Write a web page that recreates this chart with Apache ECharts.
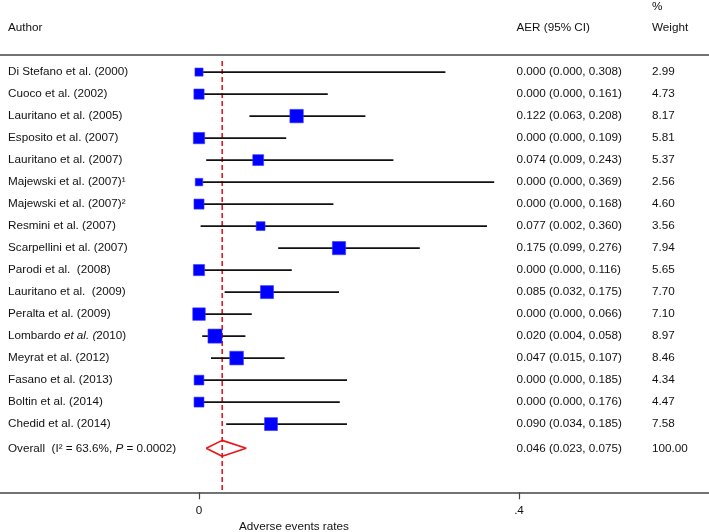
<!DOCTYPE html>
<html>
<head>
<meta charset="utf-8">
<script src="https://cdn.jsdelivr.net/npm/echarts@6/dist/echarts.min.js"></script>
<style>
  html, body { margin: 0; padding: 0; background: #fff; }
  #chart { width: 709px; height: 532px; }
</style>
</head>
<body>
<div id="chart"></div>
<script>
// studies (top to bottom)
const authors = [
  "Di Stefano et al. (2000)",
  "Cuoco et al. (2002)",
  "Lauritano et al. (2005)",
  "Esposito et al. (2007)",
  "Lauritano et al. (2007)",
  "Majewski et al. (2007)\u00b9",
  "Majewski et al. (2007)\u00b2",
  "Resmini et al. (2007)",
  "Scarpellini et al. (2007)",
  "Parodi et al.  (2008)",
  "Lauritano et al.  (2009)",
  "Peralta et al. (2009)",
  "Lombardo {i|et al. (}2010)",
  "Meyrat et al. (2012)",
  "Fasano et al. (2013)",
  "Boltin et al. (2014)",
  "Chedid et al. (2014)"
];
const aer = [0.000, 0.000, 0.122, 0.000, 0.074, 0.000, 0.000, 0.077, 0.175, 0.000, 0.085, 0.000, 0.020, 0.047, 0.000, 0.000, 0.090];
const lower = [0.000, 0.000, 0.063, 0.000, 0.009, 0.000, 0.000, 0.002, 0.099, 0.000, 0.032, 0.000, 0.004, 0.015, 0.000, 0.000, 0.034];
const upper = [0.308, 0.161, 0.208, 0.109, 0.243, 0.369, 0.168, 0.360, 0.276, 0.116, 0.175, 0.066, 0.058, 0.107, 0.185, 0.176, 0.185];
const weights = [2.99, 4.73, 8.17, 5.81, 5.37, 2.56, 4.60, 3.56, 7.94, 5.65, 7.70, 7.10, 8.97, 8.46, 4.34, 4.47, 7.58];

// overall row
const overallLabel = "Overall  (I\u00b2 = 63.6%, {i|P} = 0.0002)";
const overallText = "0.046 (0.023, 0.075)";
const overallWeight = "100.00";
// pooled diamond as drawn (left, centre, right)
const diamond = [0.009, 0.029, 0.059];
const overallRow = 17.1;

const xTicks = [0, 0.4];

const FONT = "'Liberation Sans', Arial, Helvetica, sans-serif";
const FS = 11.7;
const TXT = "#111";

const chart = echarts.init(document.getElementById("chart"));

const fmt = (v) => v.toFixed(3);
const rows = authors.map((a, i) => [aer[i], i, lower[i], upper[i], weights[i]]);

// text columns, y from the axis
const textRows = authors.map((a, i) => ({
  name: a,
  value: [0, i],
  ci: fmt(aer[i]) + " (" + fmt(lower[i]) + ", " + fmt(upper[i]) + ")",
  w: weights[i].toFixed(2)
}));
textRows.push({ name: overallLabel, value: [0, overallRow], ci: overallText, w: overallWeight });

const rich = {
  i: { fontStyle: "italic", fontFamily: FONT, fontSize: FS, fill: TXT }
};

const option = {
  animation: false,
  backgroundColor: "#fff",
  grid: { left: 0, right: 0, top: 54.5, bottom: 39.7 },
  xAxis: [
    {
      type: "value",
      min: -0.24875,
      max: 0.6375,
      position: "bottom",
      splitLine: { show: false },
      axisLine: { show: true, onZero: false, lineStyle: { color: "#444", width: 1.5 } },
      axisTick: {
        show: true,
        customValues: xTicks,
        length: 7,
        inside: false,
        lineStyle: { color: "#444", width: 1.2 }
      },
      axisLabel: {
        customValues: xTicks,
        fontFamily: FONT,
        fontSize: FS,
        color: TXT,
        margin: 12,
        formatter: (v) => (v === 0 ? "0" : String(v).replace(/^0/, ""))
      }
    },
    {
      type: "value",
      min: -0.24875,
      max: 0.6375,
      position: "top",
      splitLine: { show: false },
      axisLine: { show: true, onZero: false, lineStyle: { color: "#444", width: 1.5 } },
      axisTick: { show: false },
      axisLabel: { show: false }
    }
  ],
  yAxis: {
    type: "value",
    inverse: true,
    min: -0.8,
    max: 19.1,
    show: false
  },
  graphic: [
    { type: "text", left: 8, top: 22, style: { text: "Author", font: FS + "px " + FONT, fill: TXT } },
    { type: "text", left: 516.5, top: 22, style: { text: "AER (95% CI)", font: FS + "px " + FONT, fill: TXT } },
    { type: "text", left: 652, top: 1, style: { text: "%", font: FS + "px " + FONT, fill: TXT } },
    { type: "text", left: 652, top: 22, style: { text: "Weight", font: FS + "px " + FONT, fill: TXT } },
    { type: "text", left: 239, top: 521, style: { text: "Adverse events rates", font: FS + "px " + FONT, fill: TXT } }
  ],
  series: [
    {
      // reference line at pooled estimate
      type: "line",
      data: [[diamond[1], -0.5], [diamond[1], 19.1]],
      symbol: "none",
      lineStyle: { color: "#e8141a", width: 1.6, type: [5, 3] },
      z: 1
    },
    {
      // CI lines and weighted boxes
      type: "custom",
      data: rows,
      z: 3,
      renderItem: (params, api) => {
        const y = api.value(1);
        const p0 = api.coord([api.value(2), y]);
        const p1 = api.coord([api.value(3), y]);
        const c = api.coord([api.value(0), y]);
        const s = 4.7 * Math.sqrt(api.value(4));
        return {
          type: "group",
          children: [
            {
              type: "line",
              shape: { x1: p0[0], y1: p0[1], x2: p1[0], y2: p1[1] },
              style: { stroke: "#111", lineWidth: 1.6 }
            },
            {
              type: "rect",
              shape: { x: c[0] - s / 2, y: c[1] - s / 2, width: s, height: s },
              style: { fill: "#0000ff", stroke: "#3a3aff", lineWidth: 0.6 }
            }
          ]
        };
      }
    },
    {
      // overall diamond
      type: "line",
      data: [
        [diamond[0], overallRow],
        [diamond[1], overallRow - 0.36],
        [diamond[2], overallRow],
        [diamond[1], overallRow + 0.36],
        [diamond[0], overallRow]
      ],
      symbol: "none",
      lineStyle: { color: "#e8141a", width: 1.6 },
      z: 4
    },
    {
      // text columns
      type: "custom",
      data: textRows,
      z: 5,
      renderItem: (params, api) => {
        const d = textRows[params.dataIndex];
        const y = api.coord([0, api.value(1)])[1];
        const st = { font: FS + "px " + FONT, fill: TXT, verticalAlign: "middle" };
        return {
          type: "group",
          children: [
            { type: "text", x: 8, y: y, style: Object.assign({ text: d.name, rich: rich }, st) },
            { type: "text", x: 516.5, y: y, style: Object.assign({ text: d.ci }, st) },
            { type: "text", x: 652, y: y, style: Object.assign({ text: d.w }, st) }
          ]
        };
      }
    }
  ]
};

chart.setOption(option);
</script>
</body>
</html>
